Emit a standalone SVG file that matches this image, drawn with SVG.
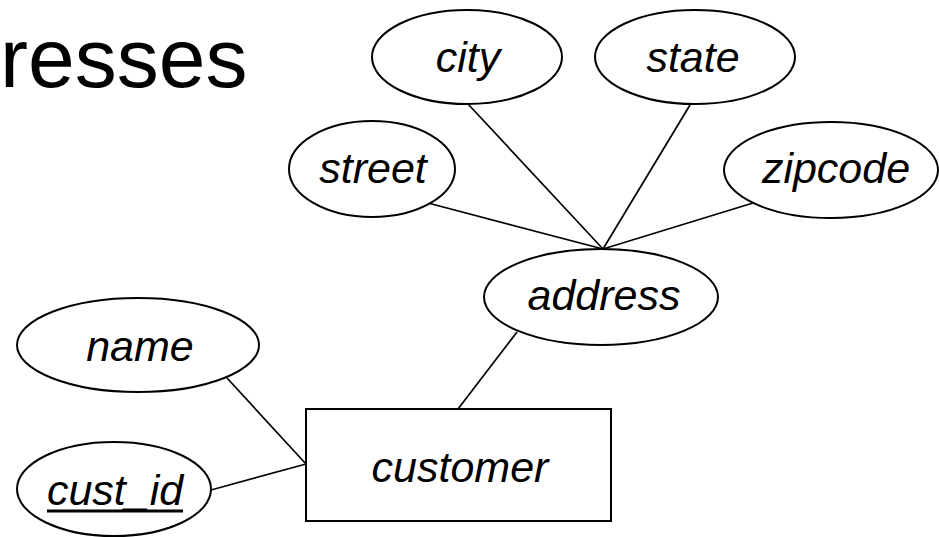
<svg xmlns="http://www.w3.org/2000/svg" width="939" height="537" viewBox="0 0 939 537">
<style>
  .shape { fill: #fff; stroke: #000; stroke-width: 2; }
  .conn line { stroke: #000; stroke-width: 1.7; }
  .lbl { font-family: "Liberation Sans", Arial, sans-serif; font-style: italic; font-size: 43px; fill: #000; text-anchor: middle; }
  .title { font-family: "Liberation Sans", Arial, sans-serif; font-size: 84px; fill: #000; }
</style>
<rect width="939" height="537" fill="#fff"/>
<text class="title" x="0" y="87">resses</text>
<g id="connectors" class="conn">
  <line x1="468" y1="104" x2="603" y2="249"/>
  <line x1="690" y1="105" x2="603" y2="249"/>
  <line x1="428" y1="203" x2="603" y2="249"/>
  <line x1="753" y1="203" x2="603" y2="249"/>
  <line x1="517" y1="332" x2="458" y2="409"/>
  <line x1="227" y1="378" x2="306" y2="464"/>
  <line x1="211" y1="490" x2="306" y2="464"/>
</g>
<g id="city">
  <ellipse class="shape" cx="467" cy="57" rx="95" ry="47"/>
  <text class="lbl" x="468" y="72">city</text>
</g>
<g id="state">
  <ellipse class="shape" cx="695" cy="57" rx="100" ry="47"/>
  <text class="lbl" x="693" y="72">state</text>
</g>
<g id="street">
  <ellipse class="shape" cx="372" cy="169" rx="83" ry="48"/>
  <text class="lbl" x="373" y="183">street</text>
</g>
<g id="zipcode">
  <ellipse class="shape" cx="831" cy="170" rx="107" ry="48"/>
  <text class="lbl" x="836" y="183">zipcode</text>
</g>
<g id="address">
  <ellipse class="shape" cx="601" cy="297" rx="117" ry="48"/>
  <text class="lbl" x="604" y="310">address</text>
</g>
<g id="name">
  <ellipse class="shape" cx="138" cy="345" rx="121" ry="47"/>
  <text class="lbl" x="140" y="361">name</text>
</g>
<g id="cust_id">
  <ellipse class="shape" cx="114" cy="489" rx="97" ry="47"/>
  <text class="lbl" x="115" y="505">cust_id</text>
  <line x1="47" y1="511" x2="183" y2="511" stroke="#000" stroke-width="3"/>
</g>
<g id="customer">
  <rect class="shape" x="306" y="409" width="305" height="112"/>
  <text class="lbl" x="460" y="482">customer</text>
</g>
</svg>
